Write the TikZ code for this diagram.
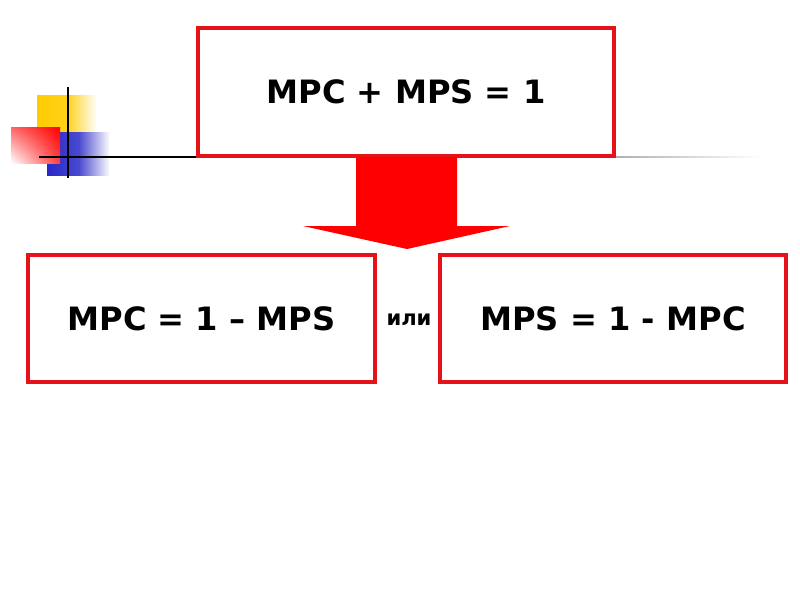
\documentclass[tikz,border=0pt]{standalone}
\usepackage{fontspec}
\setmainfont{DejaVu Sans}
\usetikzlibrary{shadings}
\definecolor{boxred}{RGB}{230,18,26}
\definecolor{decoyellow}{RGB}{255,204,0}
\definecolor{decoblue}{RGB}{40,40,200}
\begin{document}
\begin{tikzpicture}[x=0.02cm, y=-0.02cm]
    \tikzset{frame/.style={draw=boxred, line width=1.8pt, fill=white, inner sep=0pt,
        font=\fontsize{18.3}{22}\selectfont\bfseries}}
    \fill[white] (0,0) rectangle (800,600);
    \useasboundingbox (0,0) rectangle (800,600);
    % corner decoration
    \shade[left color=decoyellow, right color=white, middle color=decoyellow!90] (37,95) rectangle (97,133);
    \shade[left color=decoblue, right color=white, middle color=decoblue!85] (47,132) rectangle (110,175);
    \shade[upper right=red, lower left=white, upper left=red!60, lower right=red!75] (11,127) rectangle (60,163);
    \draw[line width=1.3pt] (68,87) -- (68,178);
    \draw[line width=1.5pt] (39,157) -- (300,157);
    \shade[left color=black, right color=white] (300,156.2) rectangle (760,157.8);
    % boxes
    \node[frame, minimum width=8.32cm, minimum height=2.56cm] (sum) at (406,92) {MPC + MPS = 1};
    \node[frame, minimum width=6.94cm, minimum height=2.54cm] (mpc) at (201.5,318.5) {MPC = 1 – MPS};
    \node[frame, minimum width=6.92cm, minimum height=2.54cm] (mps) at (613,318.5) {MPS = 1 - MPC};
    \node[font=\fontsize{12}{14}\selectfont\bfseries] (or) at (409,320) {или};
    % block arrow
    \fill[red] (356,157) -- (457,157) -- (457,226) -- (510,226) -- (407,249)
        -- (303,226) -- (356,226) -- cycle;
\end{tikzpicture}
\end{document}
